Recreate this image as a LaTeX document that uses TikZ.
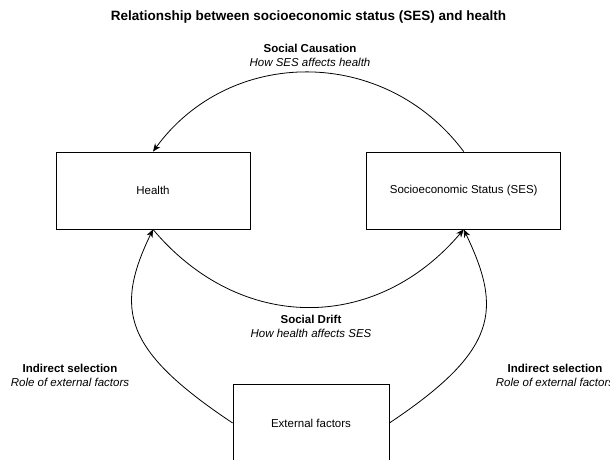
\documentclass[tikz,border=0pt]{standalone}
\usepackage{fontspec}
\setmainfont{Liberation Sans}
\usetikzlibrary{arrows.meta, positioning}
\tikzset{
  box/.style={rectangle, draw, line width=0.8pt, minimum width=194pt,
    minimum height=77pt, align=center, font=\fontsize{11.5}{14}\selectfont},
  lbl/.style={align=center, font=\fontsize{11.5}{14}\selectfont, inner sep=1pt},
  arr/.style={-{Stealth[length=8pt, width=6.5pt]}, line width=0.8pt},
}
\begin{document}
\begin{tikzpicture}[x=1pt, y=-1pt]
  \clip (0,0) rectangle (610,460);
  \fill[white] (0,0) rectangle (610,460);
  % Title
  \node[font=\fontsize{13.5}{16}\selectfont\bfseries] (title) at (308.5,17) {Relationship between socioeconomic status (SES) and health};

  % Boxes
  \node[box] (health) at (153,190.5) {Health};
  \node[box] (ses) at (463.7,190.5) {Socioeconomic Status (SES)};
  \node[box, minimum width=156pt, minimum height=78pt] (ext) at (311,423) {External factors};

  % Labels
  \node[lbl] (caus) at (310,55) {\textbf{Social Causation}\\\textit{How SES affects health}};
  \node[lbl] (drift) at (311,326.5) {\textbf{Social Drift}\\\textit{How health affects SES}};
  \node[lbl] (indl) at (70,375) {\textbf{Indirect selection}\\\textit{Role of external factors}};
  \node[lbl] (indr) at (555,375) {\textbf{Indirect selection}\\\textit{Role of external factors}};

  % Arrows
  \draw[arr] (ses.north) .. controls (385,46) and (230,46) .. (health.north);
  \draw[arr] (health.south) .. controls (240,333) and (376,333) .. (ses.south);
  \draw[arr] (ext.west) .. controls (124,350.5) and (114,310) .. (health.south);
  \draw[arr] (ext.east) .. controls (498,350.5) and (502.4,310) .. (ses.south);
\end{tikzpicture}
\end{document}
